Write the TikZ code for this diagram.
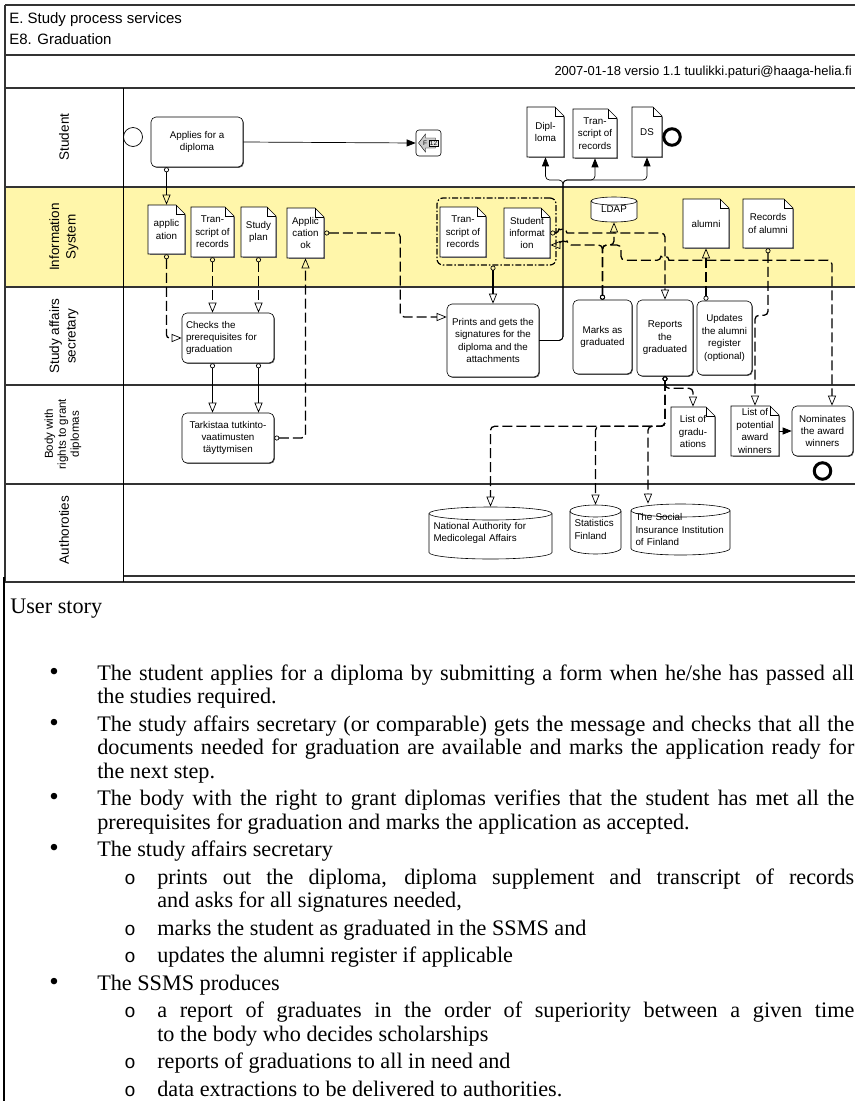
\documentclass[tikz,border=0pt]{standalone}
\usepackage{fontspec}
\setmainfont{Liberation Sans}
\newfontfamily\storyfont{Liberation Serif}
\newfontfamily\storymono{Liberation Mono}
\usetikzlibrary{arrows.meta,shadows}
\definecolor{isyellow}{RGB}{255,246,170}
\newcommand{\dfont}{\fontsize{9.8}{12.4}\selectfont}
\newcommand{\storybul}{\makebox[48pt][l]{{\fontsize{27}{27}\selectfont\textbullet}}}
\newcommand{\storysub}{\makebox[33pt][l]{{\storymono\fontsize{19}{19}\selectfont o}}}
% document with a folded corner: name, x, y, width, height, text
\newcommand{\docnode}[6]{%
  \pgfmathsetmacro{\docL}{#2-#4/2}\pgfmathsetmacro{\docR}{#2+#4/2}%
  \pgfmathsetmacro{\docT}{#3-#5/2}\pgfmathsetmacro{\docB}{#3+#5/2}%
  \draw[line width=1pt, black!55] (\docR+0.7,\docT+9.5) -- (\docR+0.7,\docB+0.7) -- (\docL+1.5,\docB+0.7);
  \filldraw[fill=white, line width=.6pt] (\docL,\docB) -- (\docL,\docT) -- (\docR-9,\docT) -- (\docR,\docT+9) -- (\docR,\docB) -- cycle;
  \draw[line width=.6pt] (\docR-9,\docT) |- (\docR,\docT+9);
  \node[docbox, minimum width=#4pt, minimum height=#5pt] (#1) at (#2,#3) {#6};
}
% data store: [align] name, x, y, width, height, ellipse radius, text
\newcommand{\dbnode}[8][align=left]{%
  \pgfmathsetmacro{\cylL}{#3-#5/2}\pgfmathsetmacro{\cylR}{#3+#5/2}%
  \pgfmathsetmacro{\cylT}{#4-#6/2}\pgfmathsetmacro{\cylB}{#4+#6/2}%
  \pgfmathsetmacro{\cylRad}{#5/2}\pgfmathsetmacro{\cylTW}{#5-9}%
  \filldraw[fill=white, line width=.6pt] (\cylL,\cylT+#7) -- (\cylL,\cylB-#7) arc[start angle=180, end angle=360, x radius=\cylRad pt, y radius=#7pt] -- (\cylR,\cylT+#7) arc[start angle=0, end angle=180, x radius=\cylRad pt, y radius=#7pt] -- cycle;
  \draw[line width=.6pt] (\cylL,\cylT+#7) arc[start angle=180, end angle=360, x radius=\cylRad pt, y radius=#7pt];
  \node[dbbox, #1, text width=\cylTW pt, minimum height=#6pt] (#2) at (#3,#4) {#8};
}
\tikzset{
    > = latex,
    task/.style={draw, fill=white, rounded corners=5pt, align=center, inner sep=2pt, font=\dfont,
        drop shadow={shadow xshift=.9pt, shadow yshift=-.9pt, fill=black!65, opacity=1}},
    docbox/.style={align=center, inner sep=1pt, font=\dfont},
    dbbox/.style={inner xsep=4.5pt, inner ysep=2pt, font=\dfont},
    lanelbl/.style={rotate=90, align=center, font=\fontsize{13.5}{16.5}\selectfont},
    laneline/.style={line width=1.2pt, black!80},
    msg/.style={line width=1.3pt, dash pattern=on 10pt off 4pt,
        {Circle[open, length=5pt, line width=.7pt]}-{Triangle[open, length=10pt, width=8pt, line width=.7pt]}},
    assoc/.style={msg, solid},
    seq/.style={line width=.7pt, -{Triangle[length=9pt, width=7pt]}},
    grp/.style={draw, rounded corners=6pt, line width=1.2pt, dash pattern=on 6pt off 2pt on 1.5pt off 2pt},
    story/.style={anchor=base west, inner sep=0pt, font=\storyfont\fontsize{22.2}{26}\selectfont},
}

\begin{document}
\begin{tikzpicture}[x=1pt, y=-1pt, line width=.6pt]
    \useasboundingbox (0,0) rectangle (855,1101);
    % frame and lanes
    \fill[isyellow] (5,187) rectangle (855,287);
    \draw[laneline] (5,5) -- (855,5);
    \draw[laneline] (5,55) -- (855,55);
    \draw[laneline] (5,88) -- (855,88);
    \draw[laneline] (5,187) -- (855,187);
    \draw[laneline] (5,287) -- (855,287);
    \draw[laneline] (5,385) -- (855,385);
    \draw[laneline] (5,484) -- (855,484);
    \draw[laneline] (123,576) -- (855,576);
    \draw[laneline] (5,582) -- (855,582);
    \draw[laneline] (5,5) -- (5,582);
    \draw[line width=1.6pt] (4,577) -- (4,1101);
    \draw[line width=.8pt] (123,88) -- (123,582);
    \node[anchor=west, inner sep=0pt, font=\fontsize{15}{18}\selectfont] (title) at (9,20) {E. Study process services};
    \node[anchor=west, inner sep=0pt, font=\fontsize{15}{18}\selectfont] (subtitle) at (9,39) {E8. Graduation};
    \node[anchor=east, inner sep=0pt, font=\fontsize{13}{15}\selectfont] (version) at (852,72) {2007-01-18 versio 1.1 tuulikki.paturi@haaga-helia.fi};
    \node[lanelbl] (lstudent) at (64,137) {Student};
    \node[lanelbl] (lis) at (64,237) {Information\\System};
    \node[lanelbl] (lsas) at (64,336) {Study affairs\\secretary};
    \node[lanelbl, font=\fontsize{11.5}{13}\selectfont] (lbody) at (63,434) {Body with\\rights to grant\\diplomas};
    \node[lanelbl] (lauth) at (64,530) {Authoroties};

    % Student
    \node[circle, draw, line width=.7pt, minimum size=19pt, inner sep=0pt] (start) at (133,137) {};
    \node[task, minimum width=92pt, minimum height=50pt] (apply) at (197,142) {Applies for a\\diploma};
    \node[draw, fill=white, rounded corners=3pt, minimum width=25pt, minimum height=26pt, inner sep=0pt] (f12) at (428.5,143) {};
    \filldraw[fill=black!20, line width=.4pt] ([xshift=-10pt]f12.center) -- ++(7pt,9pt) -- ++(0,-4pt) -- ++(10pt,0) -- ++(0,-10pt) -- ++(-10pt,0) -- ++(0,-4pt) -- cycle;
    \node[inner sep=0pt, font=\fontsize{6.5}{7}\selectfont] (f12f) at ([xshift=-3.5pt]f12.center) {F};
    \node[draw, fill=black!10, inner sep=.6pt, line width=.4pt, font=\fontsize{6.5}{7}\selectfont] (f12n) at ([xshift=5pt]f12.center) {12};
    \docnode{dipl}{545.5}{132}{37}{50}{Dipl-\\loma}
    \docnode{trs3}{595}{133.5}{44}{49}{Tran-\\script of\\records}
    \docnode{ds}{647}{132}{30}{50}{DS}
    \node[circle, draw, line width=3pt, minimum size=16.5pt, inner sep=0pt] (end1) at (672,137) {};

    % Information System
    \docnode{appl}{166.5}{229.5}{37}{49}{applic\\ation}
    \docnode{trs1}{212.5}{232}{43}{50}{Tran-\\script of\\records}
    \docnode{plan}{258.5}{232}{35}{50}{Study\\plan}
    \docnode{aok}{305.5}{233}{37}{50}{Applic\\cation\\ok}
    \node[grp, minimum width=119pt, minimum height=67pt] (group) at (496.5,231.5) {};
    \docnode{trs2}{463}{232}{46}{50}{Tran-\\script of\\records}
    \docnode{sinfo}{527}{233}{46}{50}{Student\\informat\\ion}
    \dbnode[align=center]{ldap}{614}{209.5}{46}{25}{4}{LDAP}
    \docnode{alumni}{706}{223.5}{46}{49}{alumni}
    \docnode{ralumni}{768}{223.5}{50}{49}{Records\\of alumni}

    % Study affairs secretary
    \node[task, text width=84pt, inner xsep=4pt, align=left, minimum height=50pt] (checks) at (228,338) {Checks the\\prerequisites for\\graduation};
    \node[task, minimum width=92pt, minimum height=73pt] (prints) at (493,340.5) {Prints and gets the\\signatures for the\\diploma and the\\attachments};
    \node[task, minimum width=59pt, minimum height=74pt] (marks) at (602.5,337) {Marks as\\graduated};
    \node[task, minimum width=56pt, minimum height=76pt] (reports) at (665,338) {Reports\\the\\graduated};
    \node[task, minimum width=55pt, minimum height=74pt] (updates) at (724.5,338) {Updates\\the alumni\\register\\(optional)};

    % Body with rights to grant diplomas
    \node[task, minimum width=92pt, minimum height=50pt] (tark) at (228,438) {Tarkistaa tutkinto-\\vaatimusten\\täyttymisen};
    \docnode{lgrad}{693}{431.5}{44}{49}{List of\\gradu-\\ations}
    \docnode{lpot}{755}{431}{48}{50}{List of\\potential\\award\\winners}
    \node[task, minimum width=61pt, minimum height=50pt] (nom) at (822.5,431) {Nominates\\the award\\winners};
    \node[circle, draw, line width=3pt, minimum size=16.5pt, inner sep=0pt] (end2) at (822.5,471) {};

    % Authorities
    \dbnode{nama}{490.5}{533}{123}{52}{6.5}{National Authority for\\Medicolegal Affairs}
    \dbnode{stat}{595.5}{529.5}{51}{49}{6}{Statistics\\Finland}
    \dbnode{kela}{680.5}{529.5}{99}{51}{6.5}{The Social\\Insurance Institution\\of Finland}

    % sequence flows
    \coordinate (fork) at (563,180);
    \draw[seq] (apply.east) -- (f12.west);
    \draw[seq, rounded corners=4pt] (prints.east) -| (fork) -| (dipl.south);
    \draw[seq, rounded corners=4pt] (prints.east) -| (fork) -| (trs3.south);
    \draw[seq, rounded corners=4pt] (prints.east) -| (fork) -| (ds.south);
    \draw[seq] (lpot.east) -- (nom.west);

    % message flows
    \draw[assoc] (appl.north |- apply.south) -- (appl.north);
    \draw[msg, rounded corners=3pt] (appl.south) |- (checks.west);
    \draw[msg] (trs1.south) -- (trs1.south |- checks.north);
    \draw[msg] (plan.south) -- (plan.south |- checks.north);
    \draw[assoc] (trs1.south |- checks.south) -- (trs1.south |- tark.north);
    \draw[assoc] (plan.south |- checks.south) -- (plan.south |- tark.north);
    \draw[msg, rounded corners=4pt] (tark.east) -| (aok.south);
    \draw[msg, rounded corners=4pt] (aok.east) -- ++(76,0) |- ([yshift=23.5pt]prints.west);
    \draw[assoc] (prints.north |- group.south) -- (prints.north);
    \coordinate (mk) at ([yshift=-12pt]sinfo.east);
    \coordinate (nl) at ([yshift=-12pt]ralumni.south);
    \draw[msg, rounded corners=4pt] (sinfo.east) -- ([xshift=-4pt]fork |- sinfo.east) [sharp corners] arc[start angle=180, end angle=0, radius=4pt] [rounded corners=4pt] -| (reports.north);
    \draw[msg, rounded corners=4pt] (marks.north) |- ([xshift=4pt]fork |- mk) [sharp corners] arc[start angle=0, end angle=180, radius=4pt] -- (mk);
    \draw[msg, rounded corners=4pt] (marks.north) |- (ldap.south |- mk) -- (ldap.south);
    \draw[msg, rounded corners=4pt] (marks.north) |- ([xshift=7pt]ldap.south |- mk) |- ([xshift=-4pt]reports.north |- nl) [sharp corners] arc[start angle=180, end angle=0, radius=4pt] [rounded corners=4pt] -| ([xshift=9.5pt]nom.north);
    \draw[msg] (alumni.south |- updates.north) -- (alumni.south);
    \draw[msg, rounded corners=4pt] (ralumni.south) -- ([yshift=-67pt]ralumni.south) -| (lpot.north);
    \draw[msg, rounded corners=4pt] (reports.south) -- ([yshift=-12pt]reports.south) -| (lgrad.north);
    \coordinate (rep) at ([yshift=-50pt]reports.south);
    \draw[msg, rounded corners=4pt] (reports.south) -- (rep) -| (nama.north);
    \draw[msg, rounded corners=4pt] (reports.south) -- (rep) -| (stat.north);
    \draw[msg, rounded corners=4pt] (reports.south) -- (rep) -| ([xshift=-32.5pt]kela.north);

    % user story, justified lines spread to the right margin
    \node[story] (us) at (10,613) {User story};
    \node[story] (s1) at (49,680) {\storybul\makebox[757pt][s]{The student applies for a diploma by submitting a form when he/she has passed all}};
    \node[story] (s2) at (97,703.5) {the studies required.};
    \node[story] (s3) at (49,731) {\storybul\makebox[757pt][s]{The study affairs secretary (or comparable) gets the message and checks that all the}};
    \node[story] (s4) at (97,754.5) {\makebox[757pt][s]{documents needed for graduation are available and marks the application ready for}};
    \node[story] (s5) at (97,778) {the next step.};
    \node[story] (s6) at (49,805.5) {\storybul\makebox[757pt][s]{The body with the right to grant diplomas verifies that the student has met all the}};
    \node[story] (s7) at (97,829) {prerequisites for graduation and marks the application as accepted.};
    \node[story] (s8) at (49,856.5) {\storybul The study affairs secretary};
    \node[story] (s9) at (124,884) {\storysub\makebox[697pt][s]{prints out the diploma, diploma supplement and transcript of records}};
    \node[story] (s10) at (157,907.5) {and asks for all signatures needed,};
    \node[story] (s11) at (124,935) {\storysub marks the student as graduated in the SSMS and};
    \node[story] (s12) at (124,962.5) {\storysub updates the alumni register if applicable};
    \node[story] (s13) at (49,990) {\storybul The SSMS produces};
    \node[story] (s14) at (124,1017.5) {\storysub\makebox[697pt][s]{a report of graduates in the order of superiority between a given time}};
    \node[story] (s15) at (157,1041) {to the body who decides scholarships};
    \node[story] (s16) at (124,1068.5) {\storysub reports of graduations to all in need and};
    \node[story] (s17) at (124,1096) {\storysub data extractions to be delivered to authorities.};
\end{tikzpicture}
\end{document}
